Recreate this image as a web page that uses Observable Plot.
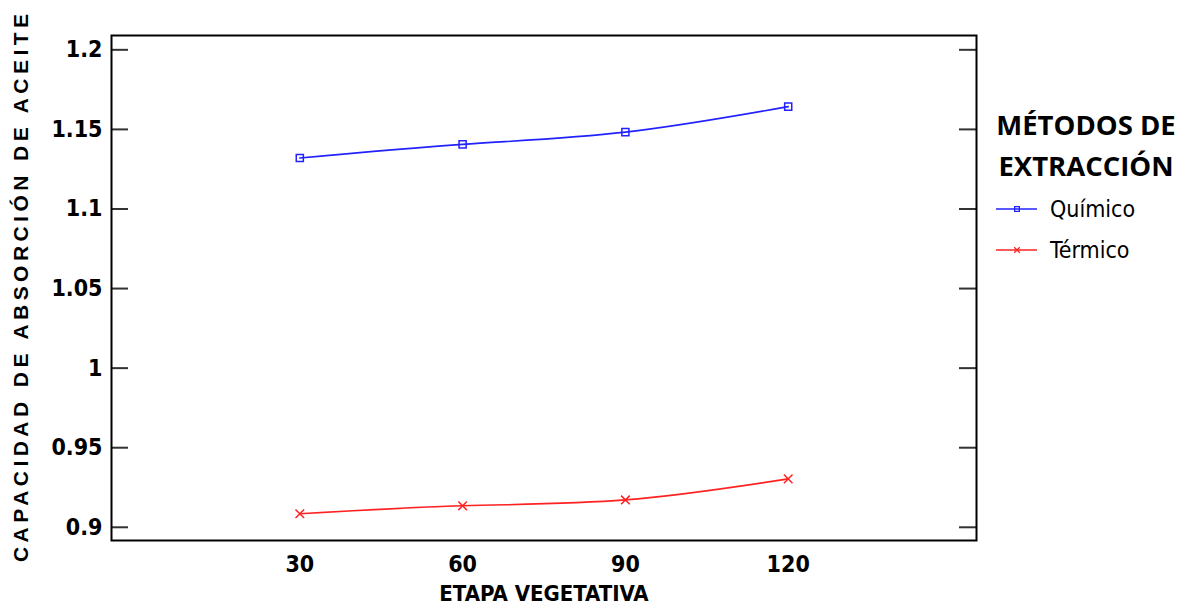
<!DOCTYPE html>
<html>
<head>
<meta charset="utf-8">
<script src="https://cdn.jsdelivr.net/npm/d3@7"></script>
<script src="https://cdn.jsdelivr.net/npm/@observablehq/plot@0.6"></script>
<style>
  html, body { margin: 0; padding: 0; background: #fff; }
  #chart svg { display: block; }
</style>
</head>
<body>
<div id="chart"></div>
<script>
const etapas = [30, 60, 90, 120];
const quimico = [1.132, 1.1406, 1.1483, 1.1643];
const termico = [0.9085, 0.9135, 0.9172, 0.9304];
const yTicks = [0.9, 0.95, 1, 1.05, 1.1, 1.15, 1.2];
const yTickLabels = ["0.9", "0.95", "1", "1.05", "1.1", "1.15", "1.2"];
const xTicks = [30, 60, 90, 120];
const series = ["Químico", "Térmico"];
const seriesColors = ["#2222ff", "#ff2222"];
const seriesSymbols = ["square", "times"];
const xTitle = "ETAPA VEGETATIVA";
const yTitle = "CAPACIDAD DE ABSORCIÓN DE ACEITE";
const legendTitle = ["MÉTODOS DE", "EXTRACCIÓN"];

const data = etapas.flatMap((e, i) => [
  {etapa: e, valor: quimico[i], metodo: series[0]},
  {etapa: e, valor: termico[i], metodo: series[1]}
]);

const W = 1180, H = 612, mL = 111, mR = 204, mT = 35, mB = 72;
const innerW = W - mL - mR;
const narrow = '"Liberation Sans Narrow", "Arial Narrow", "DejaVu Sans Condensed", sans-serif';

const chart = Plot.plot({
  width: W, height: H,
  marginLeft: mL, marginRight: mR, marginTop: mT, marginBottom: mB,
  style: {background: "#fff", color: "#000"},
  x: {domain: [-4.7, 154.7]},
  y: {domain: [0.8917, 1.209]},
  color: {domain: series, range: seriesColors},
  symbol: {domain: series, range: seriesSymbols},
  marks: [
    Plot.ruleY(yTicks, {insetRight: innerW - 17, stroke: "#333", strokeWidth: 2}),
    Plot.ruleY(yTicks, {insetLeft: innerW - 17, stroke: "#333", strokeWidth: 2}),
    Plot.axisY({ticks: yTicks, tickSize: 0, tickPadding: 9, tickFormat: (d) => yTickLabels[yTicks.indexOf(d)],
      label: null, fontSize: 23, fontWeight: "bold", fontFamily: narrow, fill: "#000"}),
    Plot.axisX({ticks: xTicks, tickSize: 0, tickPadding: 15, label: null,
      fontSize: 23, fontWeight: "bold", fontFamily: narrow, fill: "#000"}),
    Plot.line(data, {x: "etapa", y: "valor", z: "metodo", stroke: "metodo", curve: "natural", strokeWidth: 1.6}),
    Plot.dot(data, {x: "etapa", y: "valor", symbol: "metodo", stroke: "metodo", r: 4, strokeWidth: 1.5, fill: "none"}),
    Plot.frame({stroke: "#000", strokeWidth: 2}),
    Plot.text([xTitle], {frameAnchor: "bottom", textAnchor: "middle", dy: 60, fontSize: 22, fontWeight: "bold", fontFamily: narrow, fill: "#000"}),
    Plot.text([yTitle], {frameAnchor: "left", textAnchor: "middle", dx: -90, rotate: -90, fontSize: 21, fontWeight: "bold",
      fontFamily: '"Liberation Sans", Arial, sans-serif', fill: "#000", className: "ytitle"})
  ]
});

document.getElementById("chart").appendChild(chart);

const svg = d3.select(chart);
// stretch the y-axis title to the reference's span
svg.selectAll("text").filter(function () { return this.textContent === yTitle; })
  .attr("textLength", 548).attr("lengthAdjust", "spacing");

// Legend (drawn into the same SVG)
const lg = svg.append("g").attr("class", "legend");
lg.selectAll("text.title").data(legendTitle).join("text")
  .attr("class", "title")
  .attr("x", 1086).attr("y", (d, i) => 135 + i * 41)
  .attr("text-anchor", "middle")
  .attr("font-family", '"Open Sans", "Noto Sans", sans-serif')
  .attr("font-weight", 700).attr("font-size", 27.5)
  .attr("fill", "#000")
  .text(d => d);

const sym = d3.scaleOrdinal(series, [d3.symbolSquare, d3.symbolTimes]);
series.forEach((s, i) => {
  const y = 209 + i * 41;
  const g = lg.append("g");
  g.append("line").attr("x1", 996).attr("x2", 1037).attr("y1", y).attr("y2", y)
    .attr("stroke", seriesColors[i]).attr("stroke-width", 1.5);
  g.append("path").attr("transform", `translate(1017,${y})`)
    .attr("d", d3.symbol(sym(s), 22)())
    .attr("fill", "none").attr("stroke", seriesColors[i]).attr("stroke-width", 1.3);
  g.append("text").attr("x", 1050).attr("y", y).attr("dy", "0.35em")
    .attr("text-anchor", "start")
    .attr("font-family", narrow).attr("font-size", 23).attr("fill", "#000")
    .text(s);
});
</script>
</body>
</html>
